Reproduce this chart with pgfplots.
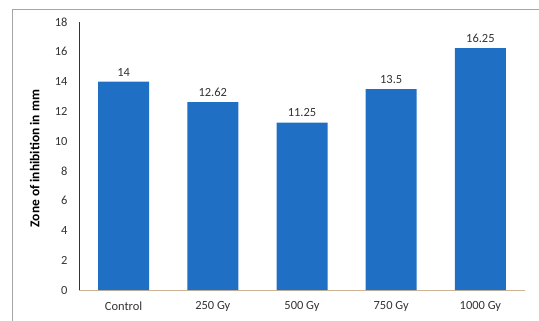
\documentclass[border=0pt]{standalone}
\usepackage{pgfplots}
\pgfplotsset{compat=1.18}
\usepackage{fontspec}
\setmainfont{Carlito}
\definecolor{barblue}{RGB}{31,112,196}
\definecolor{axtan}{RGB}{205,180,150}
\begin{document}
\begin{tikzpicture}[x=1bp,y=1bp]
\useasboundingbox (0,0) rectangle (539,320);
\draw[gray!70, line width=1bp] (12,-5) -- (12,310) -- (545,310);
\begin{axis}[
  at={(79bp,30bp)}, anchor=south west,
  scale only axis, width=446bp, height=268bp,
  ymin=0, ymax=18, ytick={0,2,...,18},
  xmin=-0.5, xmax=4.5,
  xtick={0,1,2,3,4},
  xticklabels={Control,250 Gy,500 Gy,750 Gy,1000 Gy},
  axis lines*=left,
  x axis line style={axtan, line width=0.8bp, -},
  y axis line style={black!80, line width=0.6bp, -},
  major tick length=0pt,
  ticklabel style={font=\fontsize{12.5}{13}\selectfont, text=black!80},
  xticklabel style={yshift=-8bp},
  yticklabel style={xshift=-8bp},
  /pgf/number format/assume math mode=true,
  ylabel={\bfseries Zone of inhibition in mm},
  ylabel style={font=\fontsize{13.5}{14}\selectfont, at={(axis description cs:0,0.49)}, anchor=south, yshift=36bp},
  ybar, bar width=51bp,
  nodes near coords,
  nodes near coords style={font=\fontsize{12.5}{13}\selectfont, text=black!80, yshift=2bp},
  point meta=explicit symbolic,
  clip=false,
]
\addplot[fill=barblue, draw=none] coordinates {
 (0,14) [14] (1,12.62) [12.62] (2,11.25) [11.25] (3,13.5) [13.5] (4,16.25) [16.25]
};
\end{axis}
\end{tikzpicture}
\end{document}
